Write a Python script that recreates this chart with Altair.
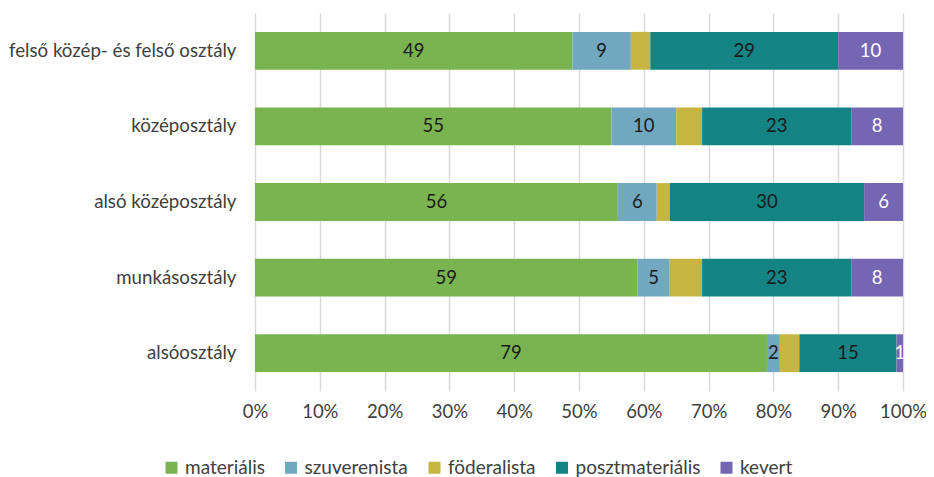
import altair as alt
import pandas as pd

classes = ["felső közép- és felső osztály", "középosztály", "alsó középosztály", "munkásosztály", "alsóosztály"]
series = ["materiális", "szuverenista", "föderalista", "posztmateriális", "kevert"]
colors = ["#7AB450", "#72A7C0", "#C6B641", "#138383", "#7566B4"]
values = {
    "materiális":      [49, 55, 56, 59, 79],
    "szuverenista":    [9, 10, 6, 5, 2],
    "föderalista":     [3, 4, 2, 5, 3],
    "posztmateriális": [29, 23, 30, 23, 15],
    "kevert":          [10, 8, 6, 8, 1],
}
show_label = ["materiális", "szuverenista", "posztmateriális", "kevert"]

rows = []
for si, s in enumerate(series):
    for ci, c in enumerate(classes):
        rows.append({"osztaly": c, "tipus": s, "ertek": values[s][ci], "ord": si,
                     "lab": str(values[s][ci]) if s in show_label else ""})
df = pd.DataFrame(rows)

FONT = "Lato"

base = alt.Chart(df).transform_stack(
    stack="ertek", groupby=["osztaly"], as_=["x0", "x1"],
    sort=[alt.SortField("ord", order="ascending")]
).transform_calculate(mid="(datum.x0 + datum.x1) / 2")

y_enc = alt.Y("osztaly:N", sort=classes, title=None,
              scale=alt.Scale(paddingInner=0.5, paddingOuter=0.25),
              axis=alt.Axis(labelFont=FONT, labelFontSize=18.7, labelColor="#404040",
                            ticks=False, domain=False, labelPadding=19, labelLimit=400))

bars = base.mark_bar().encode(
    x=alt.X("x0:Q", scale=alt.Scale(domain=[0, 100], nice=False), title=None,
            axis=alt.Axis(values=list(range(0, 101, 10)), labelExpr="datum.value + '%'",
                          labelFont=FONT, labelFontSize=18.5, labelColor="#404040",
                          labelFlush=False,
                          grid=True, gridColor="#D9D9D9", gridWidth=1.5,
                          ticks=False, domain=False, labelPadding=11)),
    x2="x1:Q",
    y=y_enc,
    color=alt.Color("tipus:N", sort=series,
                    scale=alt.Scale(domain=series, range=colors),
                    legend=alt.Legend(title=None, orient="none", direction="horizontal",
                                      legendX=-93, legendY=445,
                                      symbolType="square", symbolSize=144,
                                      symbolStrokeWidth=0,
                                      labelFont=FONT, labelFontSize=19, labelColor="#404040",
                                      columnPadding=16.5, labelOffset=4)),
)

texts = base.mark_text(font=FONT, fontSize=18.5).encode(
    x=alt.X("mid:Q"),
    y=alt.Y("osztaly:N", sort=classes),
    text="lab:N",
    color=alt.condition(alt.datum.tipus == "kevert", alt.value("white"), alt.value("#1a1a1a")),
)

chart = (bars + texts).properties(
    width=648, height=378,
    autosize=alt.AutoSizeParams(type="none"),
    padding={"left": 247, "top": 5, "right": 23, "bottom": 86},
).configure_view(stroke=None)

chart.save("out.html", embed_options={"renderer": "svg", "actions": False})
